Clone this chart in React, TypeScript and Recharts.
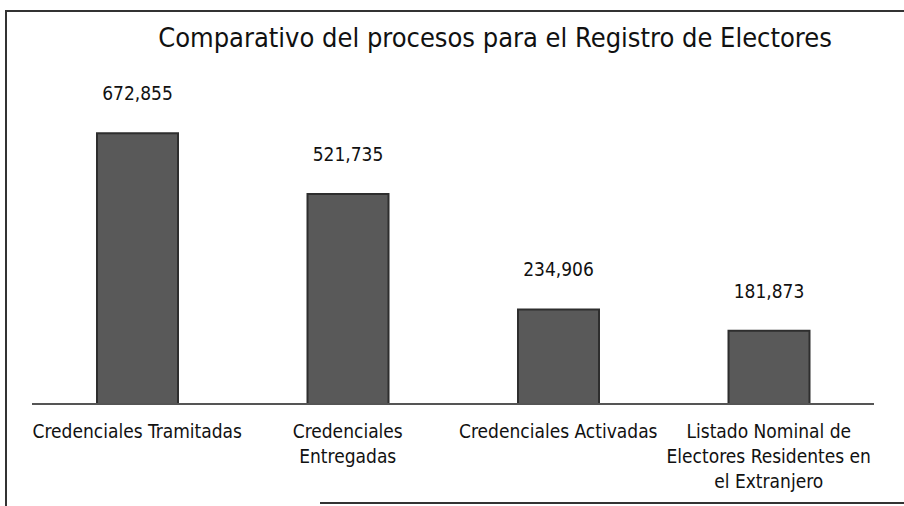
import React from "react";
import { BarChart, Bar, XAxis, YAxis, LabelList } from "recharts";

const categories = [
  "Credenciales Tramitadas",
  "Credenciales Entregadas",
  "Credenciales Activadas",
  "Listado Nominal de Electores Residentes en el Extranjero",
];
// how each category label wraps under the axis
const tickLines = [
  ["Credenciales Tramitadas"],
  ["Credenciales", "Entregadas"],
  ["Credenciales Activadas"],
  ["Listado Nominal de", "Electores Residentes en", "el Extranjero"],
];
const values = [672855, 521735, 234906, 181873];

const data = categories.map((name, i) => ({ name, value: values[i], lines: tickLines[i] }));

const FONT = '"Liberation Sans Narrow", "DejaVu Sans Condensed", Arial, sans-serif';

const WrappedTick = ({ x, y, index }: any) => {
  const lines = tickLines[index] || [];
  return (
    <text x={x} y={y + 26} textAnchor="middle" fontFamily={FONT} fontSize={19} fill="#111">
      {lines.map((l, i) => (
        <tspan key={i} x={x} dy={i === 0 ? 0 : 25}>
          {l}
        </tspan>
      ))}
    </text>
  );
};

export default function App() {
  return (
    <div
      style={{
        position: "fixed",
        left: 0,
        top: 0,
        width: 904,
        height: 506,
        background: "#fff",
        overflow: "hidden",
      }}
    >
      <div
        style={{
          position: "absolute",
          left: 5,
          top: 10,
          width: 910,
          height: 520,
          borderTop: "2px solid #333",
          borderLeft: "2px solid #333",
        }}
      />
      <div style={{ position: "absolute", left: 320, top: 502, width: 600, height: 0, borderTop: "2px solid #333" }} />
      <div
        style={{
          position: "absolute",
          left: 0,
          width: 990,
          top: 22,
          textAlign: "center",
          fontFamily: FONT,
          fontSize: 27,
          color: "#111",
        }}
      >
        Comparativo del procesos para el Registro de Electores
      </div>
      <div style={{ position: "absolute", left: 0, top: 0 }}>
        <BarChart width={904} height={506} data={data} margin={{ top: 82, right: 30, left: 32, bottom: 12 }}>
          <YAxis hide domain={[0, 800000]} />
          <XAxis
            dataKey="name"
            height={90}
            interval={0}
            tickLine={false}
            axisLine={{ stroke: "#555", strokeWidth: 2 }}
            tick={<WrappedTick />}
          />
          <Bar dataKey="value" barSize={81} fill="#595959" stroke="#2e2e2e" strokeWidth={2} isAnimationActive={false}>
            <LabelList
              dataKey="value"
              position="top"
              offset={33}
              formatter={(v: any) => Number(v).toLocaleString("en-US")}
              style={{ fontFamily: FONT, fontSize: 19, fill: "#111" }}
            />
          </Bar>
        </BarChart>
      </div>
    </div>
  );
}
